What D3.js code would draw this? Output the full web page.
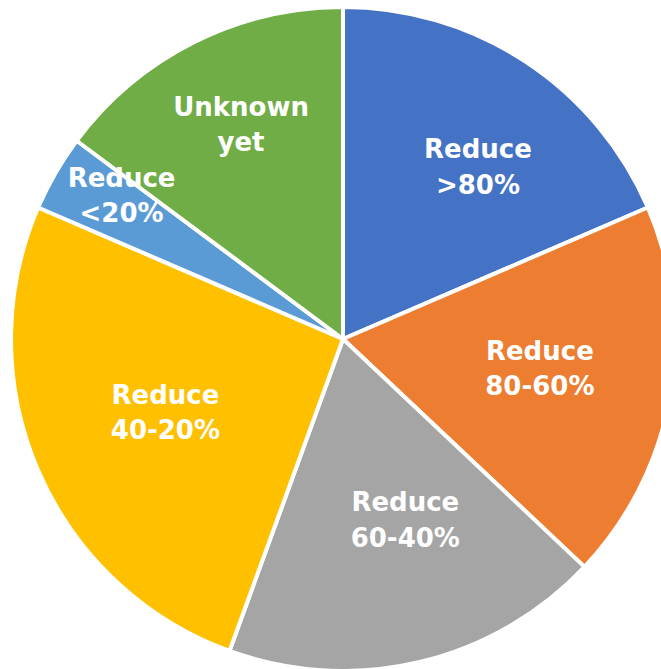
<!DOCTYPE html>
<html><head><meta charset="utf-8">
<script src="https://cdn.jsdelivr.net/npm/d3@7"></script>
<style>html,body{margin:0;padding:0;background:#fff;}</style>
</head><body>
<svg id="chart" width="661" height="669"></svg>
<script>
const categories = ["Reduce >80%", "Reduce 80-60%", "Reduce 60-40%", "Reduce 40-20%", "Reduce <20%", "Unknown yet"];
const labelLines = [["Reduce", ">80%"], ["Reduce", "80-60%"], ["Reduce", "60-40%"], ["Reduce", "40-20%"], ["Reduce", "<20%"], ["Unknown", "yet"]];
const values = [5, 5, 5, 7, 1, 4];
const colors = ["#4472C4", "#ED7D31", "#A5A5A5", "#FFC000", "#5B9BD5", "#70AD47"];

const svg = d3.select("#chart");
const cx = 343, cy = 339, R = 332;
const g = svg.append("g").attr("transform", `translate(${cx},${cy})`);
const pie = d3.pie().sort(null).value(d => d)(values);
const arc = d3.arc().innerRadius(0).outerRadius(R);
const color = d3.scaleOrdinal().domain(categories).range(colors);

g.selectAll("path").data(pie).join("path")
  .attr("d", arc)
  .attr("fill", (d, i) => color(categories[i]))
  .attr("stroke", "#fff").attr("stroke-width", 4).attr("stroke-linejoin", "round");

// label placement: radius and angle offsets tuned to match layout
const labelR = [219, 199, 191, 192, 264, 238];
const labelDA = [4.7, -1.6, -5.7, 1, 3, 1.3];
const labels = g.selectAll("g.lbl").data(pie).join("g").attr("class", "lbl")
  .attr("transform", (d, i) => {
    const a = (d.startAngle + d.endAngle) / 2 + labelDA[i] * Math.PI / 180;
    return `translate(${labelR[i] * Math.sin(a)},${-labelR[i] * Math.cos(a)})`;
  });
labels.each(function(d, i) {
  const t = d3.select(this).append("text")
    .attr("text-anchor", "middle")
    .attr("fill", "#fff")
    .attr("font-family", "'DejaVu Sans', sans-serif")
    .attr("font-weight", "bold")
    .attr("font-size", 26);
  labelLines[i].forEach((ln, k) => {
    t.append("tspan").attr("x", 0).attr("y", (k - 0.5) * 35.5).attr("dy", "0.36em").text(ln);
  });
});
</script>
</body></html>
